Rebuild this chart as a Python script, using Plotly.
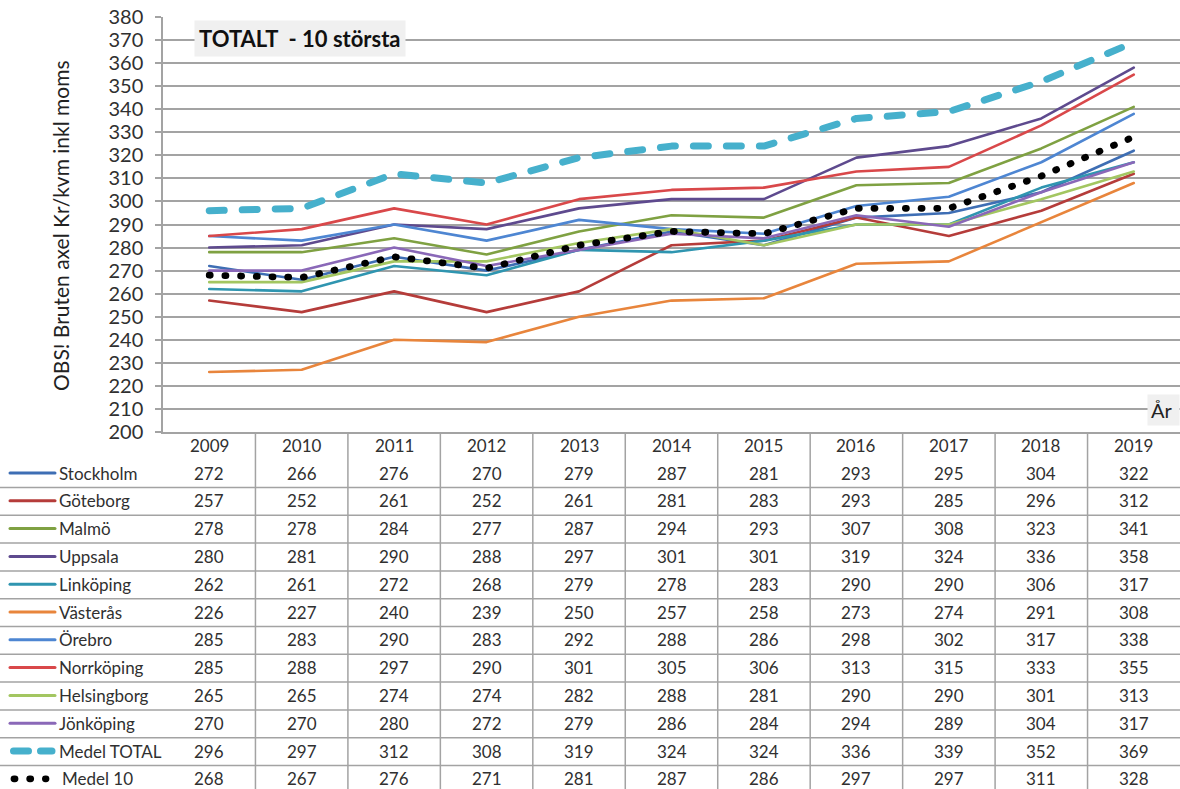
import plotly.graph_objects as go

W, H = 1180, 789

years = [2009, 2010, 2011, 2012, 2013, 2014, 2015, 2016, 2017, 2018, 2019]
stockholm   = [272, 266, 276, 270, 279, 287, 281, 293, 295, 304, 322]
goteborg    = [257, 252, 261, 252, 261, 281, 283, 293, 285, 296, 312]
malmo       = [278, 278, 284, 277, 287, 294, 293, 307, 308, 323, 341]
uppsala     = [280, 281, 290, 288, 297, 301, 301, 319, 324, 336, 358]
linkoping   = [262, 261, 272, 268, 279, 278, 283, 290, 290, 306, 317]
vasteras    = [226, 227, 240, 239, 250, 257, 258, 273, 274, 291, 308]
orebro      = [285, 283, 290, 283, 292, 288, 286, 298, 302, 317, 338]
norrkoping  = [285, 288, 297, 290, 301, 305, 306, 313, 315, 333, 355]
helsingborg = [265, 265, 274, 274, 282, 288, 281, 290, 290, 301, 313]
jonkoping   = [270, 270, 280, 272, 279, 286, 284, 294, 289, 304, 317]
medel_total = [296, 297, 312, 308, 319, 324, 324, 336, 339, 352, 369]
medel_10    = [268, 267, 276, 271, 281, 287, 286, 297, 297, 311, 328]

names = ["Stockholm", "Göteborg", "Malmö", "Uppsala", "Linköping", "Västerås",
         "Örebro", "Norrköping", "Helsingborg", "Jönköping", "Medel TOTAL", "Medel 10"]
values = [stockholm, goteborg, malmo, uppsala, linkoping, vasteras,
          orebro, norrkoping, helsingborg, jonkoping, medel_total, medel_10]
colors = ["#3e6eb4", "#b53c3a", "#7fa142", "#5e4a8e", "#2f95b0", "#e8853c",
          "#4e86d2", "#d9484a", "#a3c661", "#8a68b8", "#46b0cc", "#000000"]

FONT = "Lato"
TXT = "#303030"
GRID = "#a3a3a3"

def px(x):
    return x / W

def py(y):
    return 1 - y / H

PLOT_L, PLOT_T, PLOT_B = 163, 17, 432

fig = go.Figure()

for i, (n, v, c) in enumerate(zip(names, values, colors)):
    if n == "Medel TOTAL":
        line = dict(color=c, width=7, dash="15px,18px")
    elif n == "Medel 10":
        line = dict(color=c, width=6.8, dash="1px,14.7px")
    else:
        line = dict(color=c, width=2.6)
    fig.add_trace(go.Scatter(x=years, y=v, mode="lines", name=n, line=line,
                             xaxis="x", yaxis="y", hoverinfo="skip"))

# table geometry
HEADER_Y = 445
ROW0 = 473
ROW_H = 27.8

# legend samples in the table (pixel-unit axes)
for i, (n, c) in enumerate(zip(names, colors)):
    yrow = ROW0 + ROW_H * i
    if n == "Medel TOTAL":
        xs, line = [13.5, 52], dict(color=c, width=7, dash="15px,12px")
    elif n == "Medel 10":
        xs, line = [14, 46], dict(color=c, width=6.8, dash="1px,14.7px")
    else:
        xs, line = [10, 55], dict(color=c, width=3)
    fig.add_trace(go.Scatter(x=xs, y=[yrow, yrow], mode="lines", line=line,
                             xaxis="x2", yaxis="y2", hoverinfo="skip", showlegend=False))

shapes = []
annotations = []

# vertical table lines
for k in range(1, 11):
    shapes.append(dict(type="line", xref="x", yref="paper",
                       x0=years[0] - 0.5 + k, x1=years[0] - 0.5 + k,
                       y0=py(PLOT_B), y1=0, line=dict(color=GRID, width=1.5)))
# horizontal table lines
for k in range(11):
    yl = ROW0 + 14.5 + ROW_H * k
    shapes.append(dict(type="line", xref="paper", yref="paper", x0=0, x1=1,
                       y0=py(yl), y1=py(yl), line=dict(color=GRID, width=1.5)))

TFS = 17
# header years
for yr in years:
    annotations.append(dict(x=yr, y=py(HEADER_Y), xref="x", yref="paper", text=str(yr),
                            showarrow=False, font=dict(family=FONT, size=TFS, color=TXT),
                            xanchor="center", yanchor="middle"))
# row labels and values
for i, (n, v) in enumerate(zip(names, values)):
    yrow = py(ROW0 + ROW_H * i)
    lx = 60 if n == "Medel 10" else 57
    annotations.append(dict(x=px(lx), y=yrow, xref="paper", yref="paper", text=n,
                            showarrow=False, font=dict(family=FONT, size=TFS, color=TXT),
                            xanchor="left", yanchor="middle"))
    for yr, val in zip(years, v):
        annotations.append(dict(x=yr, y=yrow, xref="x", yref="paper", text=str(val),
                                showarrow=False, font=dict(family=FONT, size=TFS, color=TXT),
                                xanchor="center", yanchor="middle"))

# title box
annotations.append(dict(x=px(300), y=py(38), xref="paper", yref="paper",
                        text="<b>TOTALT  - 10 största</b>", showarrow=False,
                        font=dict(family=FONT, size=22, color="#111111"),
                        bgcolor="#f0f0f0", borderpad=4, xanchor="center", yanchor="middle"))
# År label
annotations.append(dict(x=px(1180), y=py(410), xref="paper", yref="paper",
                        text="År ", showarrow=False,
                        font=dict(family=FONT, size=20, color="#222222"),
                        bgcolor="#f0f0f0", borderpad=3, xanchor="right", yanchor="middle"))
# y-axis title
annotations.append(dict(x=px(61), y=py(226), xref="paper", yref="paper",
                        text="OBS! Bruten axel Kr/kvm inkl moms", textangle=-90,
                        showarrow=False, font=dict(family=FONT, size=21, color="#222222"),
                        xanchor="center", yanchor="middle"))

fig.update_layout(
    width=W, height=H,
    margin=dict(l=0, r=0, t=0, b=0, pad=0, autoexpand=False),
    paper_bgcolor="white", plot_bgcolor="white",
    showlegend=False,
    xaxis=dict(domain=[px(PLOT_L), 1], range=[years[0] - 0.5, years[-1] + 0.5],
               showgrid=False, zeroline=False, showticklabels=False, ticks="",
               showline=True, linecolor=GRID, linewidth=1.5, anchor="y",
               fixedrange=True, automargin=False),
    yaxis=dict(domain=[py(PLOT_B), py(PLOT_T)], range=[200, 380], dtick=10, tick0=200,
               showgrid=True, gridcolor=GRID, gridwidth=1.5, zeroline=False,
               showline=True, linecolor=GRID, linewidth=1.5,
               ticks="outside", ticklen=6, tickcolor=GRID, tickwidth=1.5,
               ticklabelstandoff=8,
               tickfont=dict(family=FONT, size=20, color="#303030"),
               anchor="x", fixedrange=True, automargin=False),
    xaxis2=dict(domain=[0, px(PLOT_L)], range=[0, PLOT_L], visible=False,
                anchor="y2", fixedrange=True),
    yaxis2=dict(domain=[0, py(PLOT_B)], range=[H, PLOT_B], visible=False,
                anchor="x2", fixedrange=True),
    shapes=shapes,
    annotations=annotations,
)

js = """
(function(){
  var de = document.documentElement, b = document.body;
  de.style.margin = '0'; de.style.padding = '0';
  de.style.overflow = 'hidden';
  b.style.margin = '0'; b.style.padding = '0';
  b.style.overflow = 'hidden';
  document.querySelectorAll('path.js-line').forEach(function(p){
    p.style.strokeLinecap = 'round';
    p.style.strokeLinejoin = 'round';
  });
})();
"""
fig.write_html("out.html", post_script=js, config={"displayModeBar": False})
